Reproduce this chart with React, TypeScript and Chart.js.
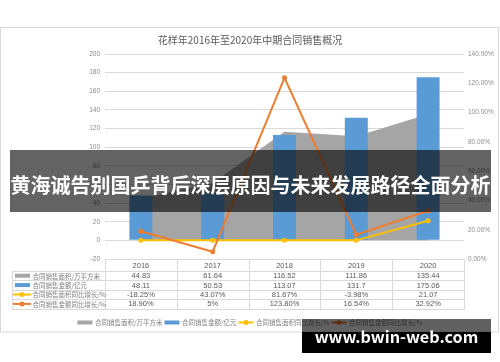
import React, { useEffect, useRef } from 'react';
import { Chart, registerables } from 'chart.js';

Chart.register(...registerables);

const years = ['2016', '2017', '2018', '2019', '2020'];
const areaValues = [44.83, 61.64, 116.52, 111.86, 135.44];
const amountValues = [48.11, 50.53, 113.07, 131.7, 175.06];
// as drawn in the picture (the first four growth figures are plotted at 0)
const areaGrowthPlotted = [0, 0, 0, 0, 21.07];
const amountGrowth = [18.9, 5, 123.8, 16.54, 32.92];

const areaText = ['44.83', '61.64', '116.52', '111.86', '135.44'];
const amountText = ['48.11', '50.53', '113.07', '131.7', '175.06'];
const areaGrowthText = ['-18.25%', '43.07%', '81.67%', '-3.98%', '21.07'];
const amountGrowthText = ['18.90%', '5%', '123.80%', '16.54%', '32.92%'];

const seriesNames = ['合同销售面积/万平方米', '合同销售金额/亿元', '合同销售面积同比增长/%', '合同销售金额同比增长/%'];
const chartTitle = '花样年2016年至2020年中期合同销售概况';
const bannerText = '黄海诚告别国乒背后深层原因与未来发展路径全面分析';
const watermarkText = 'www.bwin-web.com';

const GRAY = '#A5A5A5';
const BLUE = '#5B9BD5';
const YELLOW = '#FFC000';
const ORANGE = '#ED7D31';
const CJK = '"Noto Sans CJK SC", sans-serif';
const NUM = '"Liberation Sans", Arial, sans-serif';

type Kind = 'rect' | 'line';
const kinds: Kind[] = ['rect', 'rect', 'line', 'line'];
const colors = [GRAY, BLUE, YELLOW, ORANGE];

function drawSymbol(ctx: CanvasRenderingContext2D, kind: Kind, color: string, x: number, y: number, w: number) {
  ctx.save();
  if (kind === 'rect') {
    ctx.fillStyle = color;
    ctx.fillRect(x, y - 2, w, 4);
  } else {
    ctx.strokeStyle = color;
    ctx.lineWidth = 2;
    ctx.beginPath();
    ctx.moveTo(x, y);
    ctx.lineTo(x + w, y);
    ctx.stroke();
    ctx.fillStyle = color;
    ctx.beginPath();
    ctx.arc(x + w / 2, y, 2.5, 0, Math.PI * 2);
    ctx.fill();
  }
  ctx.restore();
}

const decorPlugin = {
  id: 'decor',
  beforeDraw(chart: any) {
    const ctx: CanvasRenderingContext2D = chart.ctx;
    ctx.save();
    ctx.fillStyle = '#ffffff';
    ctx.fillRect(0, 0, chart.width, chart.height);
    ctx.strokeStyle = '#d9d9d9';
    ctx.lineWidth = 1;
    ctx.strokeRect(0.5, 27.5, 498, 304.5);
    ctx.fillStyle = '#595959';
    ctx.font = `10px ${CJK}`;
    ctx.textAlign = 'center';
    ctx.textBaseline = 'middle';
    ctx.fillText(chartTitle, 250, 40);
    ctx.restore();
  },
  afterDraw(chart: any) {
    const ctx: CanvasRenderingContext2D = chart.ctx;
    const xs = chart.scales.x;
    const area = chart.chartArea;
    const band = xs.getPixelForValue(1) - xs.getPixelForValue(0);
    const tableLeft = 12.5;
    const top = Math.round(area.bottom) + 0.5;
    const headerH = 11.5;
    const rowH = 9.4;
    const rows = [top, top + headerH];
    for (let i = 1; i <= 4; i++) rows.push(top + headerH + rowH * i);
    const bottom = rows[rows.length - 1];
    const left = Math.round(area.left) + 0.5;
    const right = Math.round(area.right) + 0.5;

    ctx.save();
    ctx.strokeStyle = '#d9d9d9';
    ctx.lineWidth = 1;
    ctx.beginPath();
    ctx.moveTo(left, rows[0]);
    ctx.lineTo(right, rows[0]);
    for (let r = 1; r < rows.length; r++) {
      const y = Math.round(rows[r]) + 0.5;
      ctx.moveTo(tableLeft, y);
      ctx.lineTo(right, y);
    }
    ctx.moveTo(tableLeft, Math.round(rows[1]) + 0.5);
    ctx.lineTo(tableLeft, Math.round(bottom) + 0.5);
    for (let i = 0; i <= years.length; i++) {
      const x = Math.round(xs.getPixelForValue(0) - band / 2 + band * i) + 0.5;
      ctx.moveTo(x, rows[0]);
      ctx.lineTo(x, Math.round(bottom) + 0.5);
    }
    ctx.stroke();

    ctx.fillStyle = '#595959';
    ctx.textAlign = 'center';
    ctx.textBaseline = 'middle';
    ctx.font = `7.5px ${NUM}`;
    const tableRows = [areaText, amountText, areaGrowthText, amountGrowthText];
    years.forEach((yr, i) => {
      const cx = xs.getPixelForValue(i);
      ctx.fillText(yr, cx, (rows[0] + rows[1]) / 2 + 0.5);
      tableRows.forEach((vals, r) => {
        ctx.fillText(vals[i], cx, (rows[r + 1] + rows[r + 2]) / 2 + 0.5);
      });
    });

    ctx.textAlign = 'left';
    seriesNames.forEach((name, r) => {
      const cy = (rows[r + 1] + rows[r + 2]) / 2;
      if (kinds[r] === 'rect') drawSymbol(ctx, 'rect', colors[r], 15, cy, 15);
      else drawSymbol(ctx, 'line', colors[r], 13, cy, 18);
      ctx.fillStyle = '#7f7f7f';
      ctx.font = `6.5px ${CJK}`;
      ctx.fillText(name, 32.5, cy + 0.5);
    });

    // legend
    ctx.font = `6.5px ${CJK}`;
    const symW = 15;
    const widths = seriesNames.map((n) => ctx.measureText(n).width);
    const total = widths.reduce((a, w) => a + symW + 2.5 + w + 2, 0) - 2;
    let x = 250 - total / 2;
    const ly = 322.5;
    seriesNames.forEach((name, i) => {
      drawSymbol(ctx, kinds[i], colors[i], x, ly, symW);
      x += symW + 2.5;
      ctx.fillStyle = '#7f7f7f';
      ctx.fillText(name, x, ly + 0.5);
      x += widths[i] + 2;
    });
    ctx.restore();
  },
};

export default function App() {
  const ref = useRef<HTMLCanvasElement | null>(null);

  useEffect(() => {
    if (!ref.current) return;
    const tickFont = { family: NUM, size: 6.5 };
    const chart = new Chart(ref.current, {
      type: 'bar',
      data: {
        labels: years,
        datasets: [
          {
            type: 'line',
            label: seriesNames[0],
            data: areaValues,
            yAxisID: 'y',
            backgroundColor: GRAY,
            borderColor: GRAY,
            borderWidth: 0,
            pointRadius: 0,
            fill: 'origin',
            tension: 0,
            order: 4,
          } as any,
          {
            type: 'bar',
            label: seriesNames[1],
            data: amountValues,
            yAxisID: 'y',
            backgroundColor: BLUE,
            borderWidth: 0,
            barPercentage: 0.32,
            categoryPercentage: 1,
            order: 3,
          },
          {
            type: 'line',
            label: seriesNames[2],
            data: areaGrowthPlotted,
            yAxisID: 'y',
            borderColor: YELLOW,
            backgroundColor: YELLOW,
            borderWidth: 2,
            pointRadius: 2.5,
            pointBorderWidth: 0,
            fill: false,
            tension: 0,
            order: 2,
          } as any,
          {
            type: 'line',
            label: seriesNames[3],
            data: amountGrowth,
            yAxisID: 'y1',
            borderColor: ORANGE,
            backgroundColor: ORANGE,
            borderWidth: 2,
            pointRadius: 2.5,
            pointBorderWidth: 0,
            fill: false,
            tension: 0,
            order: 1,
          } as any,
        ],
      },
      options: {
        responsive: false,
        animation: false,
        devicePixelRatio: 1,
        layout: { padding: { top: 54, bottom: 103, left: 0, right: 0 } },
        plugins: {
          legend: { display: false },
          title: { display: false },
          tooltip: { enabled: false },
        },
        scales: {
          x: {
            type: 'category',
            offset: true,
            display: false,
            grid: { display: false },
          },
          y: {
            position: 'left',
            min: -20,
            max: 200,
            ticks: { stepSize: 20, color: '#8c8c8c', font: tickFont, padding: 5 },
            grid: { color: '#d9d9d9', drawTicks: false, lineWidth: 1 },
            border: { display: false },
            afterFit: (s: any) => {
              s.width = 105;
            },
          },
          y1: {
            position: 'right',
            min: 0,
            max: 140,
            ticks: {
              stepSize: 20,
              color: '#8c8c8c',
              font: tickFont,
              padding: 4,
              callback: (v: any) => Number(v).toFixed(2) + '%',
            },
            grid: { display: false, drawTicks: false },
            border: { display: false },
            afterFit: (s: any) => {
              s.width = 36;
            },
          },
        },
      } as any,
      plugins: [decorPlugin],
    });
    return () => chart.destroy();
  }, []);

  return (
    <div style={{ position: 'fixed', left: 0, top: 0, width: 500, height: 362, background: '#fff', overflow: 'hidden' }}>
      <canvas ref={ref} width={500} height={362} style={{ display: 'block', width: 500, height: 362 }} />
      <div
        style={{
          position: 'absolute',
          left: 10,
          top: 150,
          width: 481,
          height: 62,
          background: 'rgba(0,0,0,0.61)',
          color: '#fff',
          fontFamily: CJK,
          fontWeight: 700,
          fontSize: 20,
          lineHeight: '62px',
          textAlign: 'center',
          whiteSpace: 'nowrap',
          paddingTop: 4,
          boxSizing: 'border-box',
          display: 'flex',
          justifyContent: 'center',
        }}
      >
        <span>{bannerText}</span>
      </div>
      <div
        style={{
          position: 'absolute',
          left: 302,
          top: 319,
          width: 189,
          height: 34,
          background: 'linear-gradient(to bottom, rgba(0,0,0,0.62) 0px, rgba(0,0,0,0.62) 13px, #000 13px, #000 34px)',
          color: '#fff',
          fontFamily: CJK,
          fontWeight: 700,
          fontSize: 16.2,
          lineHeight: '34px',
          textAlign: 'center',
          whiteSpace: 'nowrap',
          display: 'flex',
          justifyContent: 'center',
        }}
      >
        <span>{watermarkText}</span>
      </div>
    </div>
  );
}
